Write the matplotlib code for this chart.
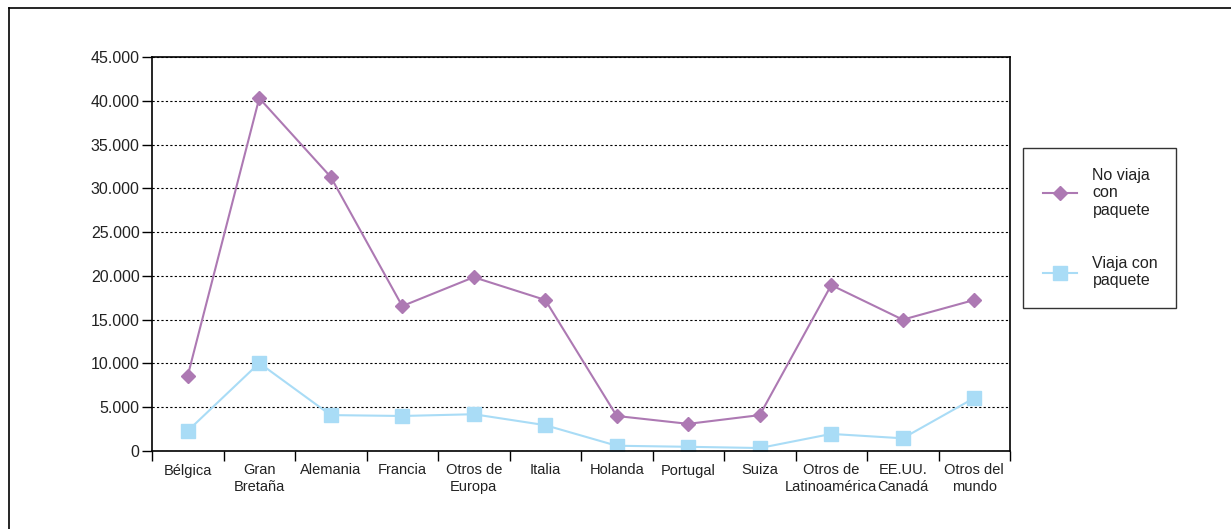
import matplotlib.pyplot as plt
import numpy as np
from matplotlib.lines import Line2D
from matplotlib.ticker import FuncFormatter

plt.rcParams['font.family'] = ['Liberation Sans', 'DejaVu Sans']

categorias = ['Bélgica', 'Gran\nBretaña', 'Alemania', 'Francia', 'Otros de\nEuropa',
              'Italia', 'Holanda', 'Portugal', 'Suiza', 'Otros de\nLatinoamérica',
              'EE.UU.\nCanadá', 'Otros del\nmundo']
no_paquete = [8600, 40300, 31300, 16550, 19850, 17250, 4000, 3100, 4100, 18950, 15000, 17250]
con_paquete = [2300, 10050, 4100, 4000, 4200, 2950, 600, 480, 340, 1950, 1450, 6050]

purpura = '#ad79b3'
celeste = '#a9dcf6'

fig = plt.figure(figsize=(12.31, 5.29), dpi=100)
ax = fig.add_axes([152/1231, 1 - 451/529, 858/1231, 394/529])

x = np.arange(len(categorias))
ax.plot(x, no_paquete, color=purpura, lw=1.5, marker='D', ms=7.5,
        label='No viaja\ncon\npaquete')
ax.plot(x, con_paquete, color=celeste, lw=1.5, marker='s', ms=9.5,
        label='Viaja con\npaquete')

ax.set_xlim(-0.5, len(categorias) - 0.5)
ax.set_ylim(0, 45000)
ax.set_yticks(np.arange(0, 45001, 5000))
ax.yaxis.set_major_formatter(FuncFormatter(lambda v, p: f'{int(v):,}'.replace(',', '.')))
ax.grid(axis='y', color='black', linestyle=(0, (2, 2)), lw=0.8)

# ticks en los límites, etiquetas en el centro
ax.set_xticks(np.arange(-0.5, len(categorias), 1))
ax.set_xticklabels([])
ax.set_xticks(x, minor=True)
ax.set_xticklabels(categorias, minor=True, fontsize=10.5, color='#222222', linespacing=1.2)
ax.tick_params(axis='x', which='major', length=7, width=1)
ax.tick_params(axis='x', which='minor', length=0, pad=9)
ax.tick_params(axis='y', length=7, width=1, labelsize=11.5, labelcolor='#222222', pad=2)
for s in ax.spines.values():
    s.set_linewidth(1.2)

leg = ax.legend(loc='upper left', bbox_to_anchor=(1023/1231, 1 - 148/529, 153/1231, 0),
                bbox_transform=fig.transFigure, mode='expand', fontsize=11.5,
                frameon=True, fancybox=False, edgecolor='black', borderpad=1.25,
                labelspacing=2.4, handlelength=2.1, handletextpad=1.0, borderaxespad=0)
leg.get_frame().set_linewidth(1.0)
for t in leg.get_texts():
    t.set_color('#222222')
    t.set_linespacing(1.2)

# marco exterior (solo izquierda y arriba visibles)
fig.add_artist(Line2D([9/1231, 9/1231], [0, 1 - 8/529], transform=fig.transFigure, color='black', lw=1.2))
fig.add_artist(Line2D([9/1231, 1], [1 - 8/529, 1 - 8/529], transform=fig.transFigure, color='black', lw=1.2))

fig.savefig('out.png', dpi=100)
